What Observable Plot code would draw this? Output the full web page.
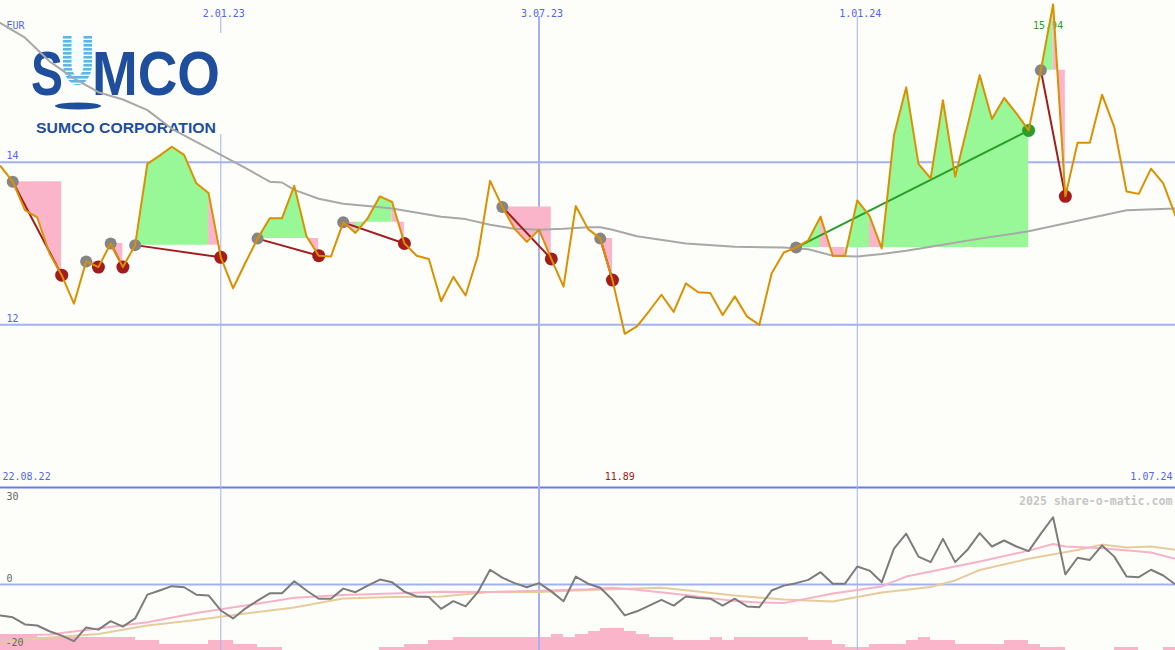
<!DOCTYPE html>
<html><head><meta charset="utf-8">
<script src="https://cdn.jsdelivr.net/npm/d3@7"></script>
<script src="https://cdn.jsdelivr.net/npm/@observablehq/plot@0.6"></script>
<style>
body{margin:0;background:#fdfefa;}
#wrap{position:relative;width:1175px;height:650px;overflow:hidden;background:#fdfefa;}
#wrap svg{overflow:hidden;}
</style></head><body><div id="wrap"></div>
<script>
// ---------- data (weekly, starting 29.08.2022) ----------
const price = [13.95,13.76,13.41,13.32,12.88,12.61,12.26,12.78,12.71,13.00,
12.71,12.98,13.98,14.08,14.19,14.09,13.74,13.62,12.83,12.45,
12.76,13.06,13.31,13.31,13.71,13.09,12.85,12.84,13.26,13.13,
13.31,13.58,13.51,13.00,12.85,12.81,12.29,12.59,12.36,12.85,
13.77,13.45,13.18,13.02,13.17,12.81,12.47,13.46,13.18,13.06,
12.55,11.89,11.98,12.17,12.37,12.16,12.51,12.40,12.39,12.12,
12.35,12.10,12.00,12.63,12.89,12.95,13.04,13.33,12.85,12.85,
13.53,13.34,12.94,14.33,14.92,13.98,13.80,14.76,13.82,14.44,
15.07,14.53,14.79,14.60,14.39,15.13,15.94,13.58,14.24,14.24,
14.83,14.43,13.64,13.61,13.92,13.74,13.34];

const maWeeks = [0,2,4,6,8,10,12,14,16,18,20,22,23,24,26,28,30,32,36,38,40,42,44,46,48,49,50,52,56,60,64,66,68,70,72,74,76,80,84,88,92,96];
const maValues = [15.71,15.53,15.24,15.03,14.86,14.77,14.64,14.41,14.25,14.09,13.93,13.76,13.75,13.66,13.55,13.49,13.46,13.43,13.33,13.30,13.23,13.18,13.17,13.18,13.20,13.20,13.17,13.09,13.00,12.96,12.95,12.93,12.85,12.84,12.87,12.91,12.96,13.06,13.15,13.28,13.41,13.43];

const tradeEntry = [1,7,9,11,21,28,41,49,65,85];
const tradeExit  = [5,8,10,18,26,33,45,50,84,87];

const oscillator = [-11.3,-12.0,-14.6,-15.0,-17.1,-18.7,-20.7,-15.7,-16.5,-13.4,
-15.4,-12.4,-3.7,-2.2,-0.6,-1.0,-3.7,-4.0,-9.5,-12.4,
-8.8,-5.9,-3.2,-3.2,1.2,-2.2,-5.2,-5.2,-1.5,-2.8,
-0.4,1.8,0.8,-2.6,-4.4,-4.6,-8.9,-6.1,-8.0,-2.8,
5.4,2.5,0.5,-1.0,0.5,-2.5,-6.1,2.9,0.3,-1.2,
-5.6,-11.3,-9.8,-7.7,-5.6,-7.7,-4.4,-4.9,-5.2,-7.7,
-5.2,-8.0,-8.3,-2.2,-0.4,0.5,1.7,4.5,0.3,0.3,
6.6,5.1,0.8,13.1,18.6,10.2,8.2,16.7,8.2,12.7,
18.8,13.9,16.1,13.9,12.2,18.6,24.6,3.7,9.8,9.0,
14.3,10.2,2.9,2.7,5.4,3.3,0.0];

const pinkWeeks = [0,4,8,12,16,20,24,28,32,36,40,44,48,50,52,56,58,60,62,64,68,72,74,76,80,84,86,87,90,94,96];
const pinkValues = [-18.7,-18.3,-16.1,-13.8,-10.4,-7.7,-4.8,-3.8,-3.3,-2.6,-2.7,-2.3,-1.7,-1.2,-1.9,-3.8,-5.0,-6.0,-6.6,-6.8,-3.3,-0.7,2.9,4.8,8.4,12.4,14.8,13.9,13.3,11.7,9.4];

const tanWeeks = [0,4,8,12,16,20,24,28,32,36,40,44,48,52,54,56,60,64,68,72,76,78,80,84,88,90,92,94,96];
const tanValues = [-21.1,-19.4,-18.1,-15.0,-13.0,-10.6,-8.4,-5.1,-4.6,-4.4,-2.7,-2.7,-2.0,-1.5,-1.2,-2.1,-4.0,-5.5,-6.2,-2.9,-0.9,1.5,5.3,9.4,12.6,14.6,13.5,13.9,12.7];

const volume = [5,5,5, 4,4,4,4,4,4,4,4, 3,3, 2,2,2,2, 3,3, 2,2, 1,1, 0,0,0,0,0,0,0,0, 1,1, 2,2, 3,3,
4,4,4,4,4,4,4,4, 5,4,5,6,7,7,6,5, 4,4, 3,3,3, 4,3, 4,4,4,4,4,4, 3,3, 2, 1,1, 2,2,2, 3,4, 3,3,
2,2,2,2, 3,3, 2, 1,1, 0,0,0,0, 1,1, 0,0, 1,1];

const xTickDates = ["2023-01-02","2023-07-03","2024-01-01"];
const xTickLabels = ["2.01.23","3.07.23","1.01.24"];
const priceTicks = [14, 12];
const oscTicks = [30, 0, -20];
const rangeLabels = ["22.08.22", "1.07.24"];
const currency = "EUR";
const credit = "2025 share-o-matic.com";

// ---------- setup ----------
const W = 1175;
const bg = "#fdfefa";
const mono = "'DejaVu Sans Mono', monospace";
const gridBlue = "#a3b1f1", sepBlue = "#6b7ce8", labelBlue = "#5463ee";
const orange = "#dc9000", green = "#98f898", pink = "#fbb5ca";
const winC = "#2a9d2a", lossC = "#a31c1c";

const t0 = new Date(Date.UTC(2022, 7, 29));
const weekDates = price.map((_, k) => d3.utcWeek.offset(t0, k));
const xDomain = [t0, new Date(Date.UTC(2024, 6, 1))];
const xScale = {type: "utc", domain: xDomain, range: [0, W], axis: null};
const topY = {domain: [10, 16], range: [487, -1], axis: null};
const xTicks = xTickDates.map((d, i) => ({date: new Date(d), label: xTickLabels[i]}));
const tickWidth = d => d.date.getUTCMonth() === 6 ? 2 : 1;

const trades = tradeEntry.map((e, t) => ({
  x1: weekDates[e], y1: price[e], x2: weekDates[tradeExit[t]], y2: price[tradeExit[t]],
  win: price[tradeExit[t]] > price[e]
}));
// fill runs between price and entry level, coloured by where each week ends
const segs = [];
tradeEntry.forEach((e, t) => {
  const ep = price[e];
  let run = -1, prevUp = null;
  for (let i = e; i < tradeExit[t]; i++) {
    const up = price[i + 1] > ep;
    if (up !== prevUp) {
      run++; prevUp = up;
      segs.push({id: t + "-" + run, x: weekDates[i], y: price[i], e: ep, up});
    }
    segs.push({id: t + "-" + run, x: weekDates[i + 1], y: price[i + 1], e: ep, up});
  }
});
const maxI = d3.maxIndex(price), minI = d3.minIndex(price);

const wrap = document.getElementById("wrap");
function place(el, top) {
  el.style.position = "absolute"; el.style.left = "0px"; el.style.top = top + "px";
  wrap.append(el);
}

// ---------- upper panel: grid & labels ----------
place(Plot.plot({
  width: W, height: 489, margin: 0,
  x: xScale, y: topY,
  style: {background: bg, fontFamily: mono, fontSize: "10px"},
  marks: [
    Plot.ruleY(priceTicks, {stroke: gridBlue, strokeWidth: 2}),
    Plot.ruleY([topY.domain[0]], {stroke: sepBlue, strokeWidth: 2}),
    Plot.ruleX(xTicks, {x: "date", insetTop: 16, stroke: gridBlue, strokeWidth: tickWidth}),
    Plot.text(xTicks, {x: "date", text: "label", frameAnchor: "top", dx: 3, dy: 9, fill: labelBlue, fontSize: 10}),
    Plot.text(priceTicks, {y: d => d, text: d => String(d), frameAnchor: "left", textAnchor: "start", dx: 6, dy: -6, fill: labelBlue, fontSize: 10}),
    Plot.text([currency], {text: d => d, frameAnchor: "top-left", textAnchor: "start", dx: 6, dy: 21, fill: labelBlue, fontSize: 10}),
    Plot.text([rangeLabels[0]], {text: d => d, frameAnchor: "bottom-left", textAnchor: "start", dx: 2, dy: -10, fill: labelBlue, fontSize: 10}),
    Plot.text([rangeLabels[1]], {text: d => d, frameAnchor: "bottom-right", textAnchor: "end", dx: -3, dy: -10, fill: labelBlue, fontSize: 10}),
    Plot.text([minI], {x: i => weekDates[i], text: i => price[i].toFixed(2), frameAnchor: "bottom", dx: -5, dy: -10, fill: "#a01818", fontSize: 10}),
    Plot.text([maxI], {x: i => weekDates[i], text: i => price[i].toFixed(2), frameAnchor: "top", dx: -5, dy: 21, fill: "#22a022", fontSize: 10})
  ]
}), 0);

// ---------- logo ----------
const logo = document.createElement("div");
logo.innerHTML = `<svg width="240" height="140" xmlns="http://www.w3.org/2000/svg">
<defs><pattern id="stripe" width="8" height="4" patternUnits="userSpaceOnUse"><rect width="8" height="2.6" fill="#5cb6ec"/></pattern></defs>
<rect x="28" y="33" width="206" height="101" fill="${bg}"/>
<path d="M63,35 V64 A14.5,21 0 0 0 92,64 V35 H83.5 V64 A6,12 0 0 1 71.5,64 V35 Z" fill="url(#stripe)"/>
<g font-family="'Liberation Sans', Arial, sans-serif" font-weight="bold">
<text x="31" y="95" font-size="63" fill="#1f4e9c" textLength="32" lengthAdjust="spacingAndGlyphs">S</text>
<text x="92" y="95" font-size="63" fill="#1f4e9c" textLength="128" lengthAdjust="spacingAndGlyphs">MCO</text>
<ellipse cx="78" cy="106" rx="23" ry="3.5" fill="#1f4e9c"/>
<text x="36" y="133" font-size="15.5" fill="#1f4e9c" textLength="180" lengthAdjust="spacingAndGlyphs">SUMCO CORPORATION</text>
</g></svg>`;
place(logo, 0);

// ---------- upper panel: data ----------
place(Plot.plot({
  width: W, height: 489, margin: 0,
  x: xScale, y: topY, color: {type: "identity"},
  style: {background: "transparent"},
  marks: [
    Plot.areaY(segs.filter(d => d.up), {x: "x", y1: "e", y2: "y", z: "id", fill: green}),
    Plot.areaY(segs.filter(d => !d.up), {x: "x", y1: "e", y2: "y", z: "id", fill: pink}),
    Plot.line(maWeeks, {x: k => weekDates[k], y: (k, i) => maValues[i], stroke: "#a8a8a8", strokeWidth: 2}),
    Plot.link(trades, {x1: "x1", y1: "y1", x2: "x2", y2: "y2", stroke: d => d.win ? winC : lossC, strokeWidth: 2}),
    Plot.dot(trades, {x: "x1", y: "y1", r: 6, fill: "#858585"}),
    Plot.dot(trades, {x: "x2", y: "y2", r: 6.5, fill: d => d.win ? winC : lossC}),
    Plot.line(price, {x: (d, i) => weekDates[i], y: d => d, stroke: orange, strokeWidth: 2})
  ]
}), 0);

// ---------- lower panel: volume bars ----------
place(Plot.plot({
  width: W, height: 163, margin: 0,
  x: xScale, y: {domain: [0, 50], range: [163, 3], axis: null},
  style: {background: "transparent"},
  marks: [
    Plot.rect(volume, {x1: (d, i) => weekDates[i], x2: (d, i) => d3.utcWeek.offset(weekDates[i], 1), y1: 0, y2: d => d, fill: pink, inset: 0, shapeRendering: "crispEdges"})
  ]
}), 487);

// ---------- lower panel: oscillator ----------
place(Plot.plot({
  width: W, height: 163, margin: 0,
  x: xScale, y: {domain: [-20, 30], range: [151.7, 15], axis: null},
  style: {background: "transparent", fontFamily: mono, fontSize: "10px"},
  marks: [
    Plot.ruleY([0], {stroke: gridBlue, strokeWidth: 2}),
    Plot.ruleX(xTicks, {x: "date", stroke: gridBlue, strokeWidth: tickWidth}),
    Plot.line(tanWeeks, {x: k => weekDates[k], y: (k, i) => tanValues[i], stroke: "#e6cc9c", strokeWidth: 2}),
    Plot.line(pinkWeeks, {x: k => weekDates[k], y: (k, i) => pinkValues[i], stroke: "#f8b2c8", strokeWidth: 2}),
    Plot.line(oscillator, {x: (d, i) => weekDates[i], y: d => d, stroke: "#7c7c7c", strokeWidth: 2}),
    Plot.text(oscTicks.filter(v => v >= 0), {y: d => d, text: d => String(d), frameAnchor: "left", textAnchor: "start", dx: 6, dy: -6, fill: "#666666", fontSize: 10}),
    Plot.text(oscTicks.filter(v => v < 0), {y: d => d, text: d => String(d), frameAnchor: "left", textAnchor: "start", dx: 5, dy: 4, fill: "#666666", fontSize: 10}),
    Plot.text([credit], {text: d => d, frameAnchor: "top-right", textAnchor: "end", dx: -3, dy: 9, fill: "#c6c6c6", fontWeight: "bold", fontSize: 11.6})
  ]
}), 487);
</script></body></html>
